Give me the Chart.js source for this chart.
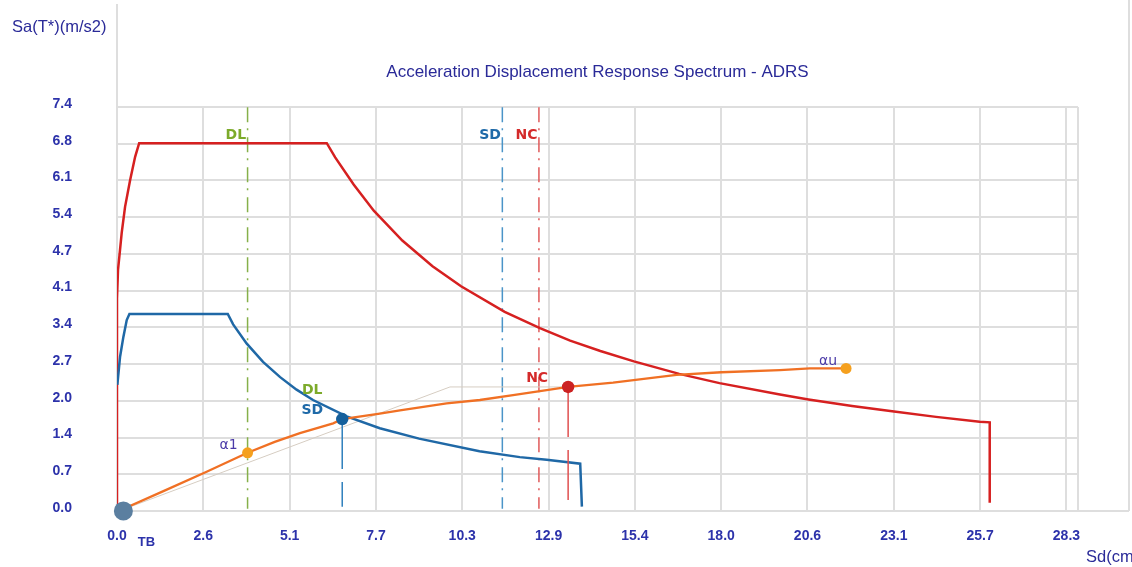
<!DOCTYPE html>
<html>
<head>
<meta charset="utf-8">
<title>ADRS</title>
<script src="https://cdn.jsdelivr.net/npm/chart.js@4.4.1/dist/chart.umd.min.js"></script>
<style>
  html, body { margin: 0; padding: 0; background: #fff; }
</style>
</head>
<body>
<canvas id="adrs" width="1132" height="567"></canvas>
<script>
// axis ticks (the program uses odd steps: 18/7 cm and 0.675 m/s2)
const xStep = 2.5714;
const yStep = 0.675;
const xMax = 28.63;
const yMax = 7.425;
const xTickLabels = ['0.0', '2.6', '5.1', '7.7', '10.3', '12.9', '15.4', '18.0', '20.6', '23.1', '25.7', '28.3'];
const yTickLabels = ['0.0', '0.7', '1.4', '2.0', '2.7', '3.4', '4.1', '4.7', '5.4', '6.1', '6.8', '7.4'];

// [Sd (cm), Sa (m/s2)]
const ncSpectrum = [[0, 0], [0, 3.9], [0.03, 4.43], [0.09, 4.8], [0.14, 5.11], [0.24, 5.59], [0.39, 6.08],
  [0.54, 6.51], [0.66, 6.76], [6.25, 6.76], [6.5, 6.5], [7.05, 6.0], [7.65, 5.52], [8.5, 4.97], [9.4, 4.5],
  [10.25, 4.13], [11.55, 3.66], [12.6, 3.36], [13.5, 3.13], [14.4, 2.94], [15.4, 2.75], [16.75, 2.52],
  [17.95, 2.35], [19.75, 2.14], [20.6, 2.05], [21.9, 1.93], [23.15, 1.83], [24.4, 1.73], [25.7, 1.64],
  [26.0, 1.63], [26.0, 0.15]];
const sdSpectrum = [[0.01, 2.32], [0.09, 2.83], [0.19, 3.2], [0.29, 3.51], [0.37, 3.62], [3.3, 3.62],
  [3.46, 3.43], [3.86, 3.08], [4.35, 2.74], [4.86, 2.46], [5.35, 2.23], [5.84, 2.04], [6.84, 1.74],
  [7.83, 1.52], [9.0, 1.33], [10.8, 1.1], [12.0, 0.99], [12.8, 0.94], [13.8, 0.87], [13.85, 0.08]];
const capacityCurve = [[0.2, 0.04], [1.4, 0.37], [2.67, 0.72], [3.89, 1.07], [4.7, 1.27], [5.45, 1.43],
  [6.44, 1.61], [6.71, 1.69], [7.83, 1.79], [8.43, 1.85], [9.82, 1.98], [10.81, 2.04], [11.8, 2.13],
  [12.8, 2.22], [13.44, 2.28], [14.78, 2.36], [16.67, 2.5], [18.0, 2.55], [19.75, 2.59], [20.64, 2.62],
  [21.72, 2.62]];
const bilinearCurve = [[0.19, 0.03], [9.92, 2.28], [13.44, 2.28]];

const limitNames = ['DL', 'SD', 'NC'];
const limitSd = [3.89, 11.48, 12.57];

const tbPoint = [0.19, 0];
const alpha1Point = [3.89, 1.07];
const sdPoint = [6.71, 1.69];
const ncPoint = [13.44, 2.28];
const alphaUPoint = [21.72, 2.62];

const navy = '#2a2a98';
const tickBlue = '#2c32aa';
const gridGrey = '#dedede';
const limitColors = ['#86b04a', '#4a94c8', '#e05a5a'];
const labelColors = ['#7caa2a', '#1f6aa8', '#d42a2a'];

function dot(pt, color, r) {
  return {
    data: [pt], showLine: false, clip: false,
    pointRadius: r, pointHoverRadius: r, pointBackgroundColor: color, pointBorderWidth: 0
  };
}

function curve(points, color, width) {
  return {
    data: points, showLine: true, borderColor: color, borderWidth: width,
    pointRadius: 0, tension: 0, fill: false
  };
}

const limitLines = limitSd.map((sd, i) => ({
  data: [[sd, 7.42], [sd, 0.04]], showLine: true, borderColor: limitColors[i], borderWidth: 1.5,
  borderDash: [15, 6, 2, 7], pointRadius: 0
}));

const dropLines = [
  { data: [sdPoint, [sdPoint[0], 0.08]], showLine: true, borderColor: '#2f80bd', borderWidth: 1.5, borderDash: [50, 13], pointRadius: 0 },
  { data: [ncPoint, [ncPoint[0], 0.15]], showLine: true, borderColor: '#e05050', borderWidth: 1.5, borderDash: [50, 13], pointRadius: 0 }
];

// frame lines that sit outside the plot area
const framePlugin = {
  id: 'frame',
  beforeDatasetsDraw(chart) {
    const { ctx, chartArea } = chart;
    ctx.save();
    ctx.strokeStyle = gridGrey;
    ctx.lineWidth = 2;
    ctx.beginPath();
    ctx.moveTo(chartArea.left, 4);
    ctx.lineTo(chartArea.left, chartArea.top);
    ctx.moveTo(1129, 0);
    ctx.lineTo(1129, chartArea.bottom);
    ctx.moveTo(chartArea.right, chartArea.bottom);
    ctx.lineTo(1129, chartArea.bottom);
    ctx.stroke();
    ctx.restore();
  }
};

const textPlugin = {
  id: 'adrsText',
  afterDatasetsDraw(chart) {
    const { ctx, chartArea } = chart;
    const x = chart.scales.x, y = chart.scales.y;
    const px = p => [x.getPixelForValue(p[0]), y.getPixelForValue(p[1])];
    ctx.save();
    ctx.textBaseline = 'middle';

    ctx.fillStyle = navy;
    ctx.font = '17px "Liberation Sans", Arial, sans-serif';
    ctx.textAlign = 'center';
    ctx.fillText('Acceleration Displacement Response Spectrum - ADRS', (chartArea.left + chartArea.right) / 2, 72);
    ctx.font = '16.5px "Liberation Sans", Arial, sans-serif';
    ctx.textAlign = 'left';
    ctx.fillText('Sa(T*)(m/s2)', 12, 27);
    ctx.fillText('Sd(cm)', 1086, 557);

    ctx.font = 'bold 14px "DejaVu Sans", sans-serif';
    ctx.textAlign = 'right';
    limitNames.forEach((name, i) => {
      ctx.fillStyle = labelColors[i];
      ctx.fillText(name, x.getPixelForValue(limitSd[i]) - 1.5, chartArea.top + 28);
    });

    ctx.textAlign = 'center';
    const [sx, sy] = px(sdPoint);
    ctx.fillStyle = labelColors[0];
    ctx.fillText('DL', sx - 30, sy - 28.5);
    ctx.fillStyle = labelColors[1];
    ctx.fillText('SD', sx - 30, sy - 8.5);
    const [nx, ny] = px(ncPoint);
    ctx.fillStyle = labelColors[2];
    ctx.fillText('NC', nx - 31, ny - 9);

    ctx.font = '14px "DejaVu Sans", sans-serif';
    ctx.fillStyle = '#4b3aa8';
    const [ax, ay] = px(alpha1Point);
    ctx.fillText('α1', ax - 19, ay - 7);
    const [ux, uy] = px(alphaUPoint);
    ctx.fillText('αu', ux - 18, uy - 7);

    ctx.font = '600 13px "Liberation Sans", Arial, sans-serif';
    ctx.fillStyle = tickBlue;
    const [tx] = px(tbPoint);
    ctx.fillText('TB', tx + 23, chartArea.bottom + 31);
    ctx.restore();
  }
};

new Chart(document.getElementById('adrs'), {
  type: 'scatter',
  data: {
    datasets: [
      dot(tbPoint, '#5b7fa0', 9.5),
      dot(alpha1Point, '#f5a01e', 5.5),
      dot(sdPoint, '#15609c', 6.2),
      dot(ncPoint, '#cc2222', 6.2),
      dot(alphaUPoint, '#f5a01e', 5.5),
      ...dropLines,
      curve(capacityCurve, '#f07024', 2.3),
      curve(sdSpectrum, '#1f68a6', 2.5),
      curve(ncSpectrum, '#d62020', 2.5),
      curve(bilinearCurve, '#d6cdc2', 1),
      ...limitLines
    ]
  },
  options: {
    responsive: false,
    animation: false,
    devicePixelRatio: 1,
    layout: { padding: { top: 107, right: 54, left: 0, bottom: 0 } },
    plugins: {
      legend: { display: false },
      tooltip: { enabled: false },
      title: { display: false }
    },
    scales: {
      x: {
        type: 'linear', min: 0, max: xMax,
        afterFit: s => { s.height = 56; },
        afterBuildTicks: s => {
          s.ticks = xTickLabels.map((_, i) => ({ value: i * xStep })).concat([{ value: xMax }]);
        },
        ticks: {
          autoSkip: false, maxRotation: 0, padding: 17, color: tickBlue,
          font: { family: '"Liberation Sans", Arial, sans-serif', size: 14, weight: '600' },
          callback: (v, i) => xTickLabels[i] ?? ''
        },
        grid: { color: gridGrey, lineWidth: 2, drawTicks: false },
        border: { color: gridGrey, width: 2 }
      },
      y: {
        type: 'linear', min: 0, max: yMax,
        afterFit: s => { s.width = 117; },
        afterBuildTicks: s => {
          s.ticks = yTickLabels.map((_, i) => ({ value: i * yStep }));
        },
        ticks: {
          autoSkip: false, padding: 45, labelOffset: -3, color: tickBlue,
          font: { family: '"Liberation Sans", Arial, sans-serif', size: 14, weight: '600' },
          callback: (v, i) => yTickLabels[i] ?? ''
        },
        grid: { color: gridGrey, lineWidth: 2, drawTicks: false },
        border: { color: gridGrey, width: 2 }
      }
    }
  },
  plugins: [framePlugin, textPlugin]
});
</script>
</body>
</html>
